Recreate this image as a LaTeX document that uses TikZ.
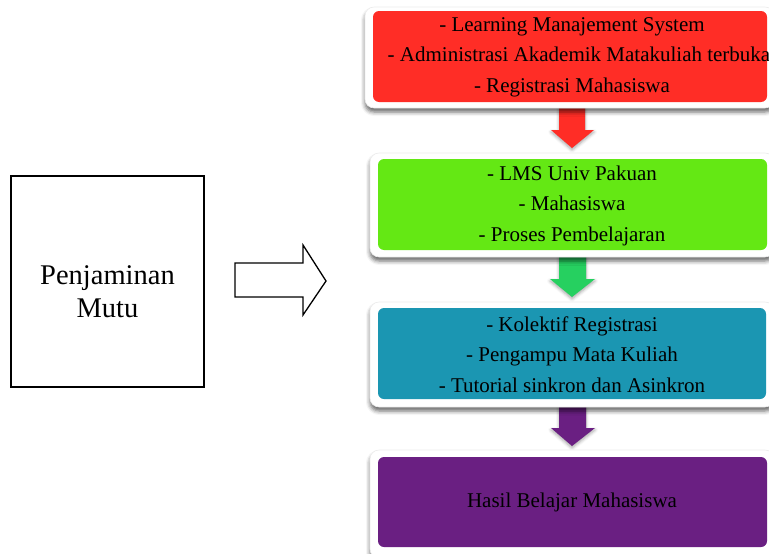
\documentclass[tikz,border=0pt]{standalone}
\usepackage{fontspec}
\setmainfont{Liberation Serif}
\newfontfamily\tnr{Liberation Serif}
\usetikzlibrary{shadows.blur}
\definecolor{cred}{RGB}{255,45,38}
\definecolor{cgreen}{RGB}{100,232,20}
\definecolor{cteal}{RGB}{27,150,178}
\definecolor{cpurple}{RGB}{106,31,130}
\definecolor{agreen}{RGB}{38,208,96}
\definecolor{frameedge}{RGB}{236,236,236}
\tikzset{
  frame/.style={draw=frameedge, fill=white, rounded corners=9pt, line width=0.6pt,
    blur shadow={shadow xshift=0pt, shadow yshift=-4pt, shadow blur radius=4pt, shadow opacity=60}},
  inbox/.style={rounded corners=6pt, inner sep=0pt, align=center, text=black,
    font=\tnr\fontsize{21}{30.5}\selectfont},
  downarrow/.style={blur shadow={shadow xshift=0pt, shadow yshift=-2pt, shadow blur radius=3pt, shadow opacity=35}},
  plainbox/.style={draw, line width=1.8pt, inner sep=0pt},
  hollow/.style={draw, line width=1.3pt, line join=miter, fill=white}
}
\begin{document}
\begin{tikzpicture}[x=1pt,y=-1pt]
\useasboundingbox (0,0) rectangle (769,554);
% left box
\node[plainbox, minimum width=193pt, minimum height=211pt] (pm) at (107.5,281.5) {};
\node[font=\tnr\fontsize{28.5}{33}\selectfont, align=center, inner sep=0pt] (pmt) at (107.5,292) {Penjaminan\\Mutu};
% hollow arrow
\coordinate (ha1) at (235,263);
\coordinate (ha2) at (303,263);
\coordinate (ha3) at (303,245);
\coordinate (ha4) at (326,281);
\coordinate (ha5) at (303,315);
\coordinate (ha6) at (303,297);
\coordinate (ha7) at (235,297);
\draw[hollow] (ha1) -- (ha2) -- (ha3) -- (ha4) -- (ha5) -- (ha6) -- (ha7) -- cycle;
% down arrows (drawn first so frames overlap shaft tops)
\fill[cred, downarrow] (559,104) -- (585,104) -- (585,130) -- (594,130) -- (572,148) -- (551,130) -- (559,130) -- cycle;
\fill[agreen, downarrow] (559,252) -- (586,252) -- (586,279) -- (595,279) -- (572,297) -- (550,279) -- (559,279) -- cycle;
\fill[cpurple, downarrow] (559,402) -- (586,402) -- (586,428) -- (595,428) -- (572,446) -- (551,428) -- (559,428) -- cycle;
% frames
\draw[frame] (365,7) rectangle (774,108);
\draw[frame] (370,153) rectangle (774,257);
\draw[frame] (370,302) rectangle (774,407);
\draw[frame] (370,450) rectangle (774,558);
% inner boxes
\fill[cred, rounded corners=6pt] (373,11) rectangle (767,102);
\fill[cgreen, rounded corners=6pt] (378,159) rectangle (767,250);
\fill[cteal, rounded corners=6pt] (378,308) rectangle (766,399);
\fill[cpurple, rounded corners=6pt] (378,457) rectangle (767,547);
\node[inbox] (t1) at (572,57) {- Learning Manajement System\\\hspace*{14pt}- Administrasi Akademik Matakuliah terbuka\\- Registrasi Mahasiswa};
\node[inbox] (t2) at (572,205.5) {- LMS Univ Pakuan\\- Mahasiswa\\- Proses Pembelajaran};
\node[inbox] (t3) at (572,354.5) {- Kolektif Registrasi\\- Pengampu Mata Kuliah\\- Tutorial sinkron dan Asinkron};
\node[inbox] (t4) at (572,502) {Hasil Belajar Mahasiswa};
\end{tikzpicture}
\end{document}
